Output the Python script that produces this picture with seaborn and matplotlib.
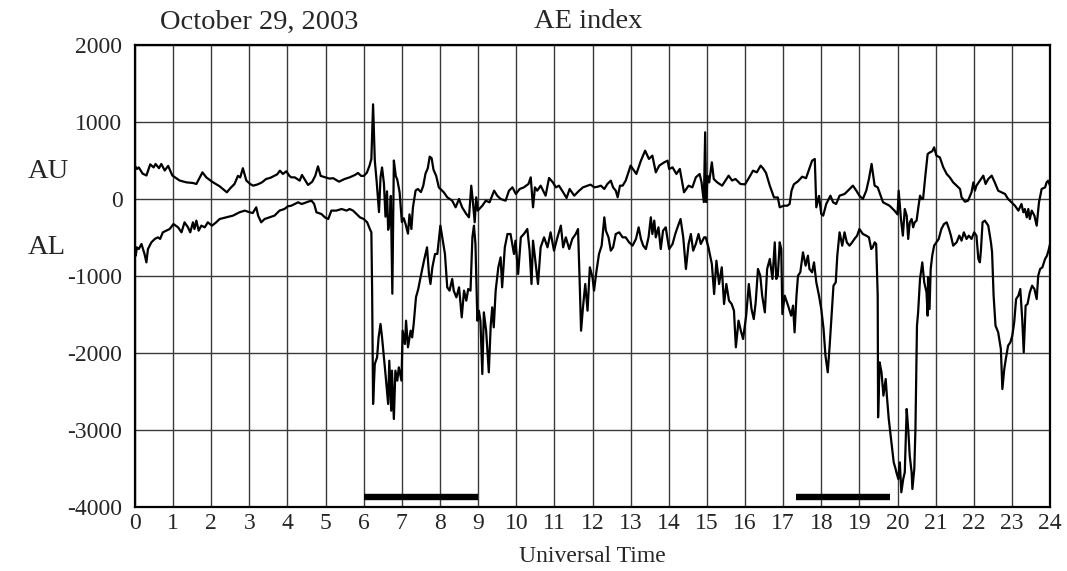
import matplotlib
matplotlib.use("Agg")
import matplotlib.pyplot as plt
import numpy as np
import pandas as pd
import seaborn as sns

# AU index, (UT hour, nT)
AU_POINTS = [
    (0.00, 430), (0.05, 390), (0.10, 410), (0.20, 330), (0.30, 305), (0.40, 450),
    (0.49, 410), (0.54, 455), (0.63, 400), (0.69, 455), (0.78, 370), (0.87, 430),
    (0.98, 305), (1.08, 270), (1.17, 240), (1.35, 216), (1.52, 208), (1.61, 195),
    (1.70, 281), (1.77, 346), (1.87, 281), (2.02, 225), (2.22, 165), (2.41, 87),
    (2.50, 140), (2.61, 195), (2.70, 300), (2.76, 280), (2.83, 400), (2.92, 240),
    (3.02, 195), (3.10, 173), (3.22, 190), (3.33, 216), (3.44, 260), (3.55, 275),
    (3.65, 300), (3.73, 320), (3.80, 368), (3.88, 325), (3.97, 360), (4.05, 300),
    (4.10, 281), (4.19, 281), (4.32, 238), (4.38, 312), (4.47, 238), (4.54, 182),
    (4.65, 225), (4.73, 303), (4.80, 424), (4.87, 300), (5.00, 281), (5.10, 265),
    (5.20, 270), (5.35, 225), (5.50, 260), (5.63, 281), (5.77, 312), (5.85, 338),
    (5.93, 300), (6.00, 300), (6.08, 340), (6.15, 430), (6.20, 520), (6.245, 1230),
    (6.29, 500), (6.34, 220), (6.40, -170), (6.44, 280), (6.48, 410), (6.53, 200),
    (6.57, -230), (6.61, 100), (6.64, -400), (6.68, -300), (6.71, 40), (6.75, -1230),
    (6.79, 500), (6.84, 300), (6.88, 250), (6.94, 90), (7.00, -300), (7.05, -250),
    (7.10, -330), (7.16, -450), (7.20, -200), (7.25, -390), (7.29, -110), (7.36, 110),
    (7.42, 130), (7.50, 90), (7.56, 170), (7.62, 330), (7.68, 400), (7.73, 550),
    (7.78, 530), (7.83, 380), (7.90, 300), (7.97, 150), (8.05, 110), (8.10, 87),
    (8.19, 22), (8.32, -22), (8.41, -108), (8.50, 0), (8.58, -108), (8.69, -195),
    (8.76, -238), (8.82, 173), (8.86, -22), (8.91, -303), (8.95, 22), (8.99, -151),
    (9.11, -87), (9.20, -22), (9.30, -43), (9.42, 108), (9.50, 43), (9.59, 0),
    (9.72, -22), (9.81, 108), (9.90, 151), (9.99, 65), (10.09, 130), (10.20, 151),
    (10.32, 195), (10.38, 281), (10.44, -108), (10.49, 151), (10.55, 108), (10.64, 173),
    (10.77, 43), (10.86, 273), (10.96, 216), (11.04, 151), (11.12, 173), (11.23, 87),
    (11.32, 13), (11.40, 130), (11.52, 43), (11.65, 108), (11.75, 151), (11.87, 173),
    (11.95, 186), (12.05, 151), (12.14, 160), (12.22, 173), (12.31, 130), (12.39, 195),
    (12.48, 238), (12.54, 151), (12.61, 108), (12.66, 22), (12.72, 173), (12.79, 173),
    (12.87, 238), (13.00, 433), (13.09, 368), (13.15, 325), (13.27, 498), (13.38, 628),
    (13.48, 520), (13.57, 563), (13.66, 346), (13.75, 433), (13.88, 476), (13.97, 498),
    (14.01, 390), (14.10, 411), (14.20, 325), (14.29, 390), (14.40, 87), (14.52, 173),
    (14.62, 151), (14.71, 281), (14.81, 325), (14.86, 216), (14.92, -40), (14.955, 866),
    (14.98, -40), (15.02, 300), (15.06, 216), (15.13, 476), (15.18, 260), (15.27, 216),
    (15.40, 173), (15.57, 303), (15.66, 240), (15.75, 260), (15.88, 195), (16.00, 190),
    (16.11, 280), (16.21, 368), (16.31, 346), (16.41, 433), (16.47, 400), (16.55, 340),
    (16.65, 173), (16.76, 20), (16.86, 20), (16.91, -108), (17.02, -87), (17.11, -87),
    (17.17, -65), (17.22, 108), (17.28, 190), (17.39, 230), (17.50, 290), (17.60, 270),
    (17.69, 400), (17.76, 498), (17.83, 520), (17.87, -108), (17.94, 40), (18.00, -195),
    (18.05, -216), (18.13, -65), (18.24, 43), (18.31, -43), (18.39, -65), (18.48, 43),
    (18.61, 65), (18.70, 108), (18.83, 173), (18.92, 108), (19.00, 43), (19.09, 0),
    (19.18, 108), (19.25, 260), (19.32, 455), (19.40, 173), (19.48, 151), (19.62, -43),
    (19.79, -87), (19.92, -151), (20.00, -200), (20.03, 108), (20.09, -260), (20.14, -476),
    (20.19, -130), (20.24, -216), (20.28, -519), (20.32, -303), (20.37, -260), (20.41, -368),
    (20.45, -303), (20.50, -281), (20.54, -130), (20.59, 43), (20.63, 0), (20.67, 0),
    (20.73, 303), (20.79, 584), (20.85, 606), (20.91, 620), (20.96, 671), (21.02, 563),
    (21.11, 541), (21.20, 411), (21.29, 325), (21.37, 281), (21.46, 216), (21.55, 173),
    (21.64, 130), (21.68, 22), (21.77, -35), (21.85, -22), (21.94, 87), (21.99, 216),
    (22.03, 108), (22.07, 173), (22.16, 238), (22.25, 303), (22.31, 195), (22.38, 260),
    (22.47, 303), (22.55, 216), (22.64, 108), (22.73, 87), (22.82, 65), (22.90, 0),
    (22.99, -43), (23.08, -87), (23.17, -151), (23.25, -65), (23.30, -173), (23.34, -130),
    (23.39, -238), (23.43, -130), (23.47, -260), (23.52, -151), (23.59, -216), (23.65, -346),
    (23.71, -43), (23.78, 130), (23.87, 151), (23.91, 216), (23.95, 238), (24.00, 173),
]

# AL index, (UT hour, nT)
AL_POINTS = [
    (0.00, -700), (0.02, -736), (0.05, -628), (0.10, -650), (0.17, -584), (0.21, -650),
    (0.25, -714), (0.30, -823), (0.34, -650), (0.43, -563), (0.52, -519), (0.60, -498),
    (0.66, -519), (0.73, -433), (0.82, -411), (0.91, -390), (1.01, -325), (1.13, -368),
    (1.22, -433), (1.30, -303), (1.39, -368), (1.45, -433), (1.52, -303), (1.56, -390),
    (1.61, -281), (1.67, -411), (1.74, -346), (1.83, -368), (1.91, -303), (2.02, -346),
    (2.13, -303), (2.22, -260), (2.40, -238), (2.57, -216), (2.74, -173), (2.88, -151),
    (3.01, -173), (3.09, -182), (3.18, -108), (3.23, -216), (3.31, -303), (3.40, -260),
    (3.53, -238), (3.66, -216), (3.79, -151), (3.92, -130), (4.01, -95), (4.10, -87),
    (4.19, -65), (4.28, -43), (4.37, -65), (4.45, -52), (4.54, -35), (4.63, -22),
    (4.70, -65), (4.76, -173), (4.89, -195), (4.98, -238), (5.07, -260), (5.15, -151),
    (5.28, -151), (5.42, -130), (5.55, -151), (5.63, -130), (5.72, -151), (5.81, -195),
    (5.90, -238), (6.00, -260), (6.09, -303), (6.16, -390), (6.20, -433), (6.22, -1190),
    (6.245, -2662), (6.29, -2143), (6.35, -2056), (6.39, -1797), (6.44, -1623), (6.48, -1797),
    (6.53, -2056), (6.57, -2273), (6.64, -2662), (6.67, -2100), (6.72, -2749), (6.74, -2229),
    (6.79, -2857), (6.83, -2229), (6.88, -2359), (6.92, -2186), (6.99, -2359), (7.02, -1710),
    (7.08, -1883), (7.11, -1580), (7.16, -1926), (7.23, -1710), (7.27, -1797), (7.31, -1623),
    (7.37, -1277), (7.43, -1169), (7.49, -1017), (7.58, -801), (7.66, -628), (7.71, -970),
    (7.75, -1104), (7.80, -887), (7.87, -714), (7.93, -714), (8.01, -346), (8.06, -498),
    (8.13, -714), (8.19, -1147), (8.25, -1190), (8.32, -1039), (8.36, -1190), (8.43, -1277),
    (8.50, -1147), (8.57, -1537), (8.63, -1190), (8.69, -1320), (8.74, -1169), (8.80, -1190),
    (8.85, -498), (8.89, -346), (8.93, -584), (8.98, -1580), (9.02, -1450), (9.06, -1580),
    (9.11, -2273), (9.15, -1472), (9.21, -1710), (9.28, -2251), (9.33, -1645), (9.37, -1407),
    (9.41, -1667), (9.46, -1190), (9.53, -887), (9.59, -758), (9.63, -1147), (9.70, -628),
    (9.77, -455), (9.85, -455), (9.94, -714), (9.98, -541), (10.05, -974), (10.12, -498),
    (10.20, -455), (10.29, -390), (10.35, -671), (10.40, -1104), (10.44, -541), (10.51, -844),
    (10.57, -1104), (10.64, -628), (10.73, -498), (10.82, -628), (10.90, -433), (10.99, -671),
    (11.08, -498), (11.17, -346), (11.23, -628), (11.30, -498), (11.39, -650), (11.47, -519),
    (11.56, -455), (11.62, -390), (11.66, -1017), (11.70, -1710), (11.75, -1407), (11.81, -1104),
    (11.87, -1450), (11.93, -887), (12.00, -1017), (12.04, -1190), (12.10, -952), (12.17, -714),
    (12.24, -606), (12.31, -238), (12.35, -411), (12.42, -498), (12.48, -671), (12.54, -628),
    (12.61, -455), (12.70, -433), (12.79, -498), (12.87, -498), (12.96, -563), (13.05, -606),
    (13.14, -519), (13.21, -368), (13.27, -519), (13.33, -606), (13.40, -650), (13.47, -498),
    (13.53, -238), (13.57, -455), (13.62, -281), (13.66, -498), (13.73, -368), (13.79, -650),
    (13.85, -411), (13.92, -368), (14.01, -650), (14.10, -584), (14.17, -455), (14.23, -368),
    (14.31, -260), (14.38, -498), (14.45, -909), (14.52, -584), (14.58, -455), (14.64, -671),
    (14.71, -584), (14.78, -455), (14.84, -584), (14.93, -498), (14.97, -498), (15.04, -628),
    (15.13, -844), (15.19, -1234), (15.25, -801), (15.32, -1104), (15.39, -887), (15.45, -1364),
    (15.51, -1104), (15.58, -1320), (15.65, -1364), (15.71, -1450), (15.76, -1926), (15.83, -1580),
    (15.89, -1710), (15.95, -1818), (16.03, -1515), (16.10, -1104), (16.17, -1429), (16.23, -1559),
    (16.28, -1342), (16.34, -909), (16.40, -996), (16.45, -1255), (16.52, -1472), (16.58, -909),
    (16.65, -779), (16.72, -1039), (16.78, -563), (16.82, -1039), (16.86, -996), (16.91, -563),
    (16.95, -649), (16.98, -1494), (17.04, -1255), (17.13, -1385), (17.21, -1515), (17.26, -1385),
    (17.30, -1732), (17.35, -1255), (17.39, -996), (17.45, -952), (17.52, -693), (17.59, -866),
    (17.65, -736), (17.69, -909), (17.76, -952), (17.81, -823), (17.87, -1082), (17.94, -1255),
    (18.00, -1429), (18.06, -1688), (18.11, -2035), (18.17, -2251), (18.22, -1905), (18.26, -1602),
    (18.32, -1126), (18.38, -1082), (18.42, -736), (18.48, -433), (18.55, -606), (18.61, -433),
    (18.67, -563), (18.74, -606), (18.81, -563), (18.87, -519), (18.94, -476), (19.00, -390),
    (19.09, -454), (19.18, -476), (19.25, -498), (19.31, -650), (19.35, -628), (19.40, -563),
    (19.44, -584), (19.48, -1255), (19.49, -2835), (19.53, -2121), (19.58, -2251), (19.63, -2554),
    (19.69, -2338), (19.72, -2554), (19.77, -2857), (19.83, -3117), (19.90, -3420), (19.95, -3506),
    (19.97, -3550), (20.02, -3636), (20.06, -3420), (20.10, -3809), (20.15, -3636), (20.19, -3550),
    (20.24, -2727), (20.28, -2987), (20.32, -3333), (20.37, -3550), (20.39, -3766), (20.44, -3506),
    (20.47, -2987), (20.51, -1645), (20.54, -1472), (20.59, -1039), (20.65, -823), (20.70, -1082),
    (20.76, -1212), (20.79, -1515), (20.80, -1017), (20.84, -1429), (20.87, -909), (20.91, -736),
    (20.96, -606), (21.02, -563), (21.08, -519), (21.15, -390), (21.22, -325), (21.29, -303),
    (21.35, -390), (21.40, -476), (21.46, -606), (21.55, -563), (21.62, -476), (21.68, -541),
    (21.74, -433), (21.81, -519), (21.87, -476), (21.94, -519), (22.01, -433), (22.07, -476),
    (22.12, -779), (22.16, -823), (22.19, -649), (22.23, -303), (22.29, -281), (22.38, -346),
    (22.45, -563), (22.48, -693), (22.52, -1255), (22.57, -1645), (22.64, -1732), (22.71, -1948),
    (22.75, -2468), (22.80, -2208), (22.84, -2078), (22.90, -1905), (22.96, -1861), (23.01, -1775),
    (23.06, -1602), (23.11, -1299), (23.17, -1255), (23.22, -1169), (23.27, -1558), (23.31, -1991),
    (23.36, -1385), (23.41, -1363), (23.47, -1212), (23.53, -1126), (23.59, -1169), (23.65, -1299),
    (23.69, -996), (23.74, -909), (23.80, -887), (23.87, -779), (23.92, -736), (23.97, -650),
    (24.00, -584),
]

# storm intervals marked by the thick bars near the bottom
BAR_STARTS = [6.0, 17.35]
BAR_ENDS = [9.0, 19.8]
BAR_LEVEL = -3870

X_TICKS = list(range(0, 25))
Y_TICKS = [-4000, -3000, -2000, -1000, 0, 1000, 2000]

sns.set_style("white")
plt.rcParams.update({
    "font.family": ["Liberation Serif", "DejaVu Serif"],
    "font.size": 17,
    "axes.unicode_minus": False,
})

au = pd.DataFrame(AU_POINTS, columns=["hour", "value"])
al = pd.DataFrame(AL_POINTS, columns=["hour", "value"])

fig = plt.figure(figsize=(10.67, 5.71), dpi=100)
ax = fig.add_axes([0.1265, 0.1121, 0.8576, 0.8091])

sns.lineplot(data=au, x="hour", y="value", estimator=None, sort=False,
             color="black", linewidth=1.6, ax=ax)
sns.lineplot(data=al, x="hour", y="value", estimator=None, sort=False,
             color="black", linewidth=1.6, ax=ax)

ax.hlines([BAR_LEVEL] * len(BAR_STARTS), BAR_STARTS, BAR_ENDS,
          color="black", linewidth=4.6, capstyle="butt", zorder=3)

ax.set_xlim(0, 24)
ax.set_ylim(-4000, 2000)
ax.set_xticks(X_TICKS)
ax.set_yticks(Y_TICKS)
ax.set_xticklabels([str(t) for t in X_TICKS])
ax.set_yticklabels([str(t) for t in Y_TICKS])
ax.tick_params(axis="both", length=0, labelsize=17)
ax.tick_params(axis="y", pad=9)
ax.tick_params(axis="x", pad=4)
ax.grid(True, color="#3a3a3a", linewidth=1.0)
ax.set_axisbelow(True)
for spine in ax.spines.values():
    spine.set_visible(True)
    spine.set_color("black")
    spine.set_linewidth(1.6)

ax.set_xlabel("Universal Time", fontsize=17, labelpad=9)
ax.set_ylabel("")

fig.text(160 / 1067, 1 - 22 / 571, "October 29, 2003", fontsize=20.5, va="center", ha="left")
fig.text(588 / 1067, 1 - 22 / 571, "AE index", fontsize=20.5, va="center", ha="center")
fig.text(48 / 1067, 1 - 172 / 571, "AU", fontsize=20.5, va="center", ha="center")
fig.text(47 / 1067, 1 - 247 / 571, "AL", fontsize=20.5, va="center", ha="center")

fig.savefig("out.png", dpi=100)
